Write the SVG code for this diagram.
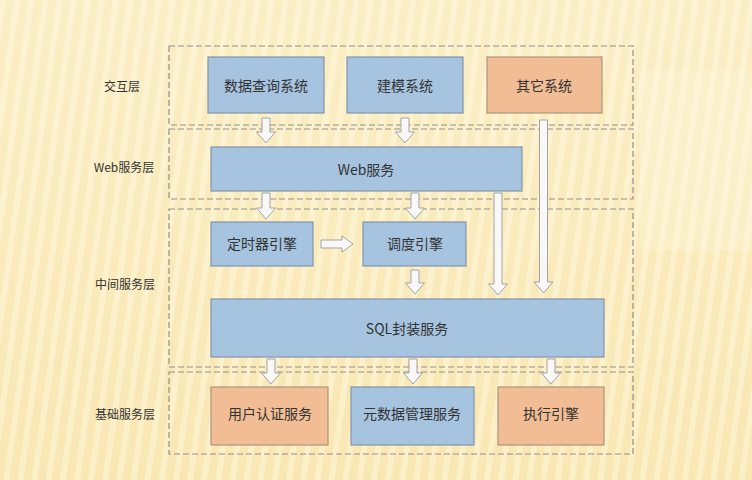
<svg xmlns="http://www.w3.org/2000/svg" width="752" height="480" viewBox="0 0 752 480">
<defs>
<pattern id="stripes" patternUnits="userSpaceOnUse" width="14" height="480" patternTransform="rotate(8)">
<rect width="14" height="480" fill="#f9e7b3"/>
<rect x="0" width="6" height="480" fill="#fcf0c8"/>
</pattern>
<linearGradient id="fade" x1="0" y1="0" x2="0" y2="1">
<stop offset="0" stop-color="#fffbe8" stop-opacity="0.35"/>
<stop offset="1" stop-color="#fffbe8" stop-opacity="0"/>
</linearGradient>
</defs>
<style>
.layer{fill:none;stroke:#8f8f8f;stroke-width:1.2;stroke-dasharray:6 3}
.blue{fill:#a6c3df;stroke:#8096ab;stroke-width:1.2}
.orange{fill:#f2bd94;stroke:#a99580;stroke-width:1.2}
.t{font-family:"Noto Sans CJK SC","Liberation Sans",sans-serif;font-size:14px;fill:#333;text-anchor:middle;dominant-baseline:central}
.lbl{font-family:"Noto Sans CJK SC","Liberation Sans",sans-serif;font-size:12px;fill:#333;text-anchor:middle;dominant-baseline:central}
.arr{fill:#f8f8f8;stroke:#a3a3a3;stroke-width:1}
</style>
<rect width="752" height="480" fill="url(#stripes)"/>
<rect x="0" y="0" width="752" height="480" fill="url(#fade)"/>
<rect x="640" y="70" width="112" height="180" fill="#fffbe8" opacity="0.25"/>

<g id="layers">
<rect class="layer" x="169" y="46" width="464" height="79"/>
<rect class="layer" x="169" y="129" width="464" height="70"/>
<rect class="layer" x="169" y="209" width="464" height="158"/>
<rect class="layer" x="169" y="372" width="464" height="82"/>
</g>

<g id="labels">
<text class="lbl" x="122" y="85">交互层</text>
<text class="lbl" x="124" y="166">Web服务层</text>
<text class="lbl" x="125" y="283">中间服务层</text>
<text class="lbl" x="125" y="413">基础服务层</text>
</g>

<g id="connectors">
<path class="arr" d="M262,118 H270 V132 H275.5 L266,143 L256.5,132 H262 Z"/>
<path class="arr" d="M401,118 H409 V132 H414.5 L405,143 L395.5,132 H401 Z"/>
<path class="arr" d="M539.5,120 H547.5 V282 H553 L543.5,293 L534,282 H539.5 Z"/>
<path class="arr" d="M262,193 H270 V208 H275.5 L266,219 L256.5,208 H262 Z"/>
<path class="arr" d="M411,193 H419 V208 H424.5 L415,219 L405.5,208 H411 Z"/>
<path class="arr" d="M494,193 H502 V284 H507.5 L498,295 L488.5,284 H494 Z"/>
<path class="arr" d="M321,240 H342 V236 L353,244 L342,252 V248 H321 Z"/>
<path class="arr" d="M411,270 H419 V283 H424.5 L415,294 L405.5,283 H411 Z"/>
<path class="arr" d="M267,359 H275 V373 H280.5 L271,384 L261.5,373 H267 Z"/>
<path class="arr" d="M409,359 H417 V373 H422.5 L413,384 L403.5,373 H409 Z"/>
<path class="arr" d="M547,359 H555 V373 H560.5 L551,384 L541.5,373 H547 Z"/>
</g>

<g id="n-query"><rect class="blue" x="208" y="57" width="116" height="56"/><text class="t" x="266" y="85">数据查询系统</text></g>
<g id="n-model"><rect class="blue" x="347" y="57" width="116" height="56"/><text class="t" x="405" y="85">建模系统</text></g>
<g id="n-other"><rect class="orange" x="487" y="57" width="115" height="56"/><text class="t" x="544" y="85">其它系统</text></g>
<g id="n-web"><rect class="blue" x="211" y="147" width="311" height="44"/><text class="t" x="366" y="169">Web服务</text></g>
<g id="n-timer"><rect class="blue" x="211" y="222" width="102" height="44"/><text class="t" x="262" y="243">定时器引擎</text></g>
<g id="n-sched"><rect class="blue" x="363" y="222" width="103" height="44"/><text class="t" x="415" y="243">调度引擎</text></g>
<g id="n-sql"><rect class="blue" x="211" y="299" width="393" height="58"/><text class="t" x="407" y="328">SQL封装服务</text></g>
<g id="n-auth"><rect class="orange" x="211" y="387" width="117" height="58"/><text class="t" x="270" y="413">用户认证服务</text></g>
<g id="n-meta"><rect class="blue" x="351" y="387" width="123" height="58"/><text class="t" x="412" y="413">元数据管理服务</text></g>
<g id="n-exec"><rect class="orange" x="498" y="387" width="106" height="58"/><text class="t" x="551" y="413">执行引擎</text></g>
</svg>
